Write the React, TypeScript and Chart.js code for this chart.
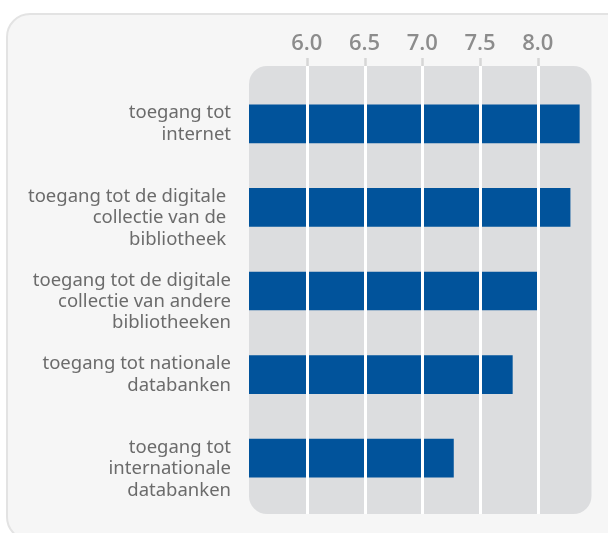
import React, { useEffect, useRef } from "react";
import { Chart, registerables } from "chart.js";

Chart.register(...registerables);

const categories: string[][] = [
  ["toegang tot", "internet"],
  ["", "toegang tot de digitale ", "collectie van de ", "bibliotheek "],
  ["", "toegang tot de digitale", "collectie van andere", "bibliotheeken"],
  ["toegang tot nationale", "databanken"],
  ["", "toegang tot", "internationale", "databanken"],
];
const scores = [8.36, 8.28, 8.0, 7.78, 7.27];
const tickValues = [6.0, 6.5, 7.0, 7.5, 8.0];
const tickLabels = ["6.0", "6.5", "7.0", "7.5", "8.0"];
const axisMin = 5.5;
const axisMax = 8.5;

const plotDecor = {
  id: "plotDecor",
  beforeDatasetsDraw(chart: any) {
    const { ctx, chartArea } = chart;
    const top = chartArea.top - 16;
    const bottom = chartArea.bottom + 14;
    const left = chartArea.left;
    const right = chartArea.right - 4;
    ctx.save();
    ctx.fillStyle = "#dcdddf";
    ctx.beginPath();
    ctx.roundRect(left, top, right - left, bottom - top, 18);
    ctx.fill();
    ctx.restore();
  },
  afterDatasetsDraw(chart: any) {
    const { ctx, chartArea } = chart;
    const xs = chart.scales.x;
    const top = chartArea.top - 16;
    const bottom = chartArea.bottom + 14;
    ctx.save();
    for (const t of xs.ticks) {
      const px = Math.round(xs.getPixelForValue(t.value)) + 0.5;
      ctx.strokeStyle = "#ffffff";
      ctx.lineWidth = 3;
      ctx.beginPath();
      ctx.moveTo(px, top);
      ctx.lineTo(px, bottom);
      ctx.stroke();
      ctx.strokeStyle = "#d6d6d6";
      ctx.lineWidth = 2.5;
      ctx.beginPath();
      ctx.moveTo(px, top - 8);
      ctx.lineTo(px, top);
      ctx.stroke();
    }
    ctx.restore();
  },
};

export default function App() {
  const ref = useRef<HTMLCanvasElement | null>(null);

  useEffect(() => {
    if (!ref.current) return;
    const chart = new Chart(ref.current, {
      type: "bar",
      data: {
        labels: categories,
        datasets: [
          {
            data: scores,
            backgroundColor: "#01539b",
            borderWidth: 0,
            barThickness: 38,
          },
        ],
      },
      options: {
        indexAxis: "y",
        animation: false,
        responsive: false,
        layout: { padding: { top: 0, left: 0, right: 12.5, bottom: 33 } },
        plugins: {
          legend: { display: false },
          tooltip: { enabled: false },
        },
        scales: {
          x: {
            position: "top",
            min: axisMin,
            max: axisMax,
            grid: { display: false, drawTicks: false },
            border: { display: false },
            afterBuildTicks: (scale: any) => {
              scale.ticks = tickValues.map((v) => ({ value: v }));
            },
            afterFit: (scale: any) => {
              scale.height = 82;
              scale.paddingLeft = 0;
              scale.paddingRight = 0;
            },
            ticks: {
              padding: 25,
              color: "#8c8c8c",
              font: { family: "'Open Sans'", size: 22, weight: 600 },
              callback: (_v: any, i: number) => tickLabels[i],
              maxRotation: 0,
              autoSkip: false,
            },
          },
          y: {
            grid: { display: false, drawTicks: false },
            border: { display: false },
            afterFit: (scale: any) => {
              scale.width = 249;
              scale.paddingTop = 0;
              scale.paddingBottom = 0;
            },
            ticks: {
              padding: 18,
              color: "#6b6b6b",
              font: { family: "'Noto Sans'", size: 18.5, lineHeight: 1.16 },
              autoSkip: false,
            },
          },
        },
      },
      plugins: [plotDecor],
    });
    return () => chart.destroy();
  }, []);

  return (
    <div
      style={{
        position: "fixed",
        left: 0,
        top: 0,
        width: 608,
        height: 533,
        background: "#ffffff",
        overflow: "hidden",
      }}
    >
      <div
        style={{
          position: "absolute",
          left: 6,
          top: 13,
          width: 640,
          height: 528,
          border: "2px solid #e3e3e3",
          borderRadius: 24,
          background: "#f6f6f6",
          boxSizing: "border-box",
        }}
      />
      <canvas
        ref={ref}
        width={608}
        height={533}
        style={{ position: "absolute", left: 0, top: 0, display: "block" }}
      />
    </div>
  );
}
